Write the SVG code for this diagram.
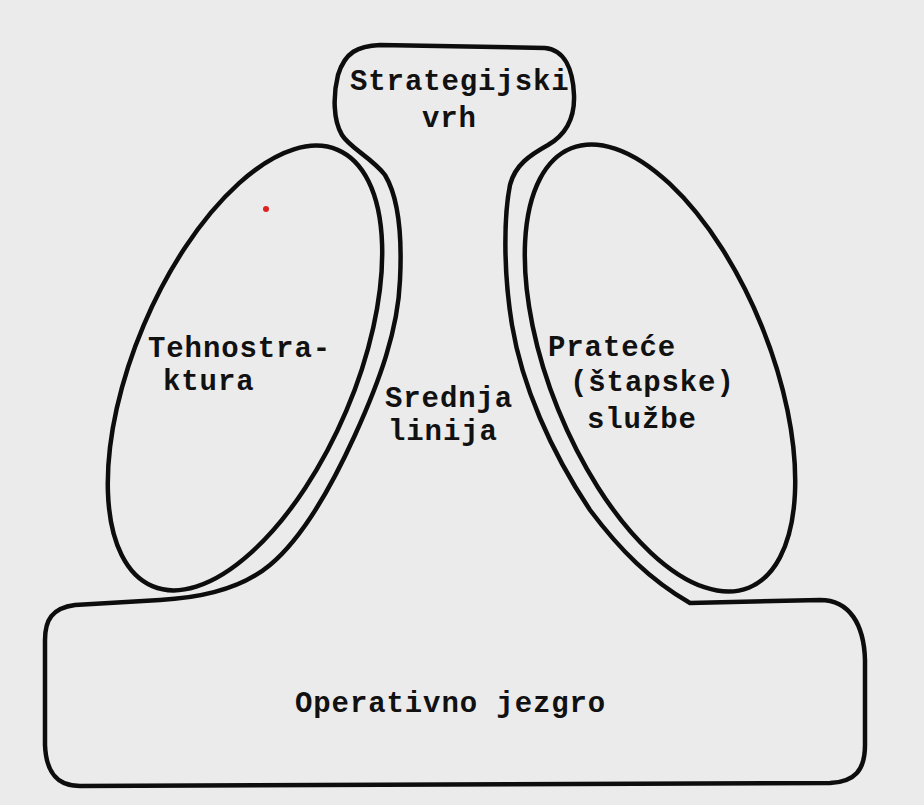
<svg xmlns="http://www.w3.org/2000/svg" width="924" height="805" viewBox="0 0 924 805">
<style>
.ln{fill:none;stroke:#0d0d0d;stroke-width:4.5;stroke-linejoin:round;stroke-linecap:round}
.tx{font-family:"Liberation Mono","Courier New",monospace;font-weight:bold;font-size:29px;letter-spacing:0.9px;fill:#111}
</style>
<rect x="0" y="0" width="924" height="805" fill="#ebebeb"/>
<g id="outline">
<path class="ln" d="M45,690 L45,640 C45,620 52,608 75,605 L160,600 C200,598 240,590 270,565 C300,540 330,490 355,435 C380,380 398,330 400,280 C402,240 400,200 385,175 C372,158 350,148 342,135 C333,120 333,95 338,75 C345,52 358,46 380,45 L545,48 C565,50 573,70 574,95 C575,120 565,135 548,145 C530,155 515,165 510,185 C504,215 503,270 512,325 C522,385 550,450 590,510 C620,550 650,580 690,603 L820,600 C850,600 864,625 865,660 L865,745 C865,770 855,782 830,783 L80,786 C55,786 46,770 45,745 Z"/>
</g>
<g id="strategic-apex">
<text class="tx" x="350" y="90">Strategijski</text>
<text class="tx" x="422" y="127">vrh</text>
</g>
<g id="technostructure">
<ellipse class="ln" cx="245" cy="368" rx="110" ry="237" transform="rotate(23 245 368)"/>
<text class="tx" x="148" y="357">Tehnostra-</text>
<text class="tx" x="163" y="390">ktura</text>
<circle cx="266" cy="209" r="3" fill="#e02020"/>
</g>
<g id="middle-line">
<text class="tx" x="385" y="407">Srednja</text>
<text class="tx" x="388" y="440">linija</text>
</g>
<g id="support-staff">
<ellipse class="ln" cx="660" cy="368" rx="110" ry="237" transform="rotate(-22 660 368)"/>
<text class="tx" x="548" y="356">Prateće</text>
<text class="tx" x="570" y="391">(štapske)</text>
<text class="tx" x="587" y="428">službe</text>
</g>
<g id="operating-core">
<text class="tx" x="295" y="712">Operativno jezgro</text>
</g>
<g id="connectors"/>
</svg>
